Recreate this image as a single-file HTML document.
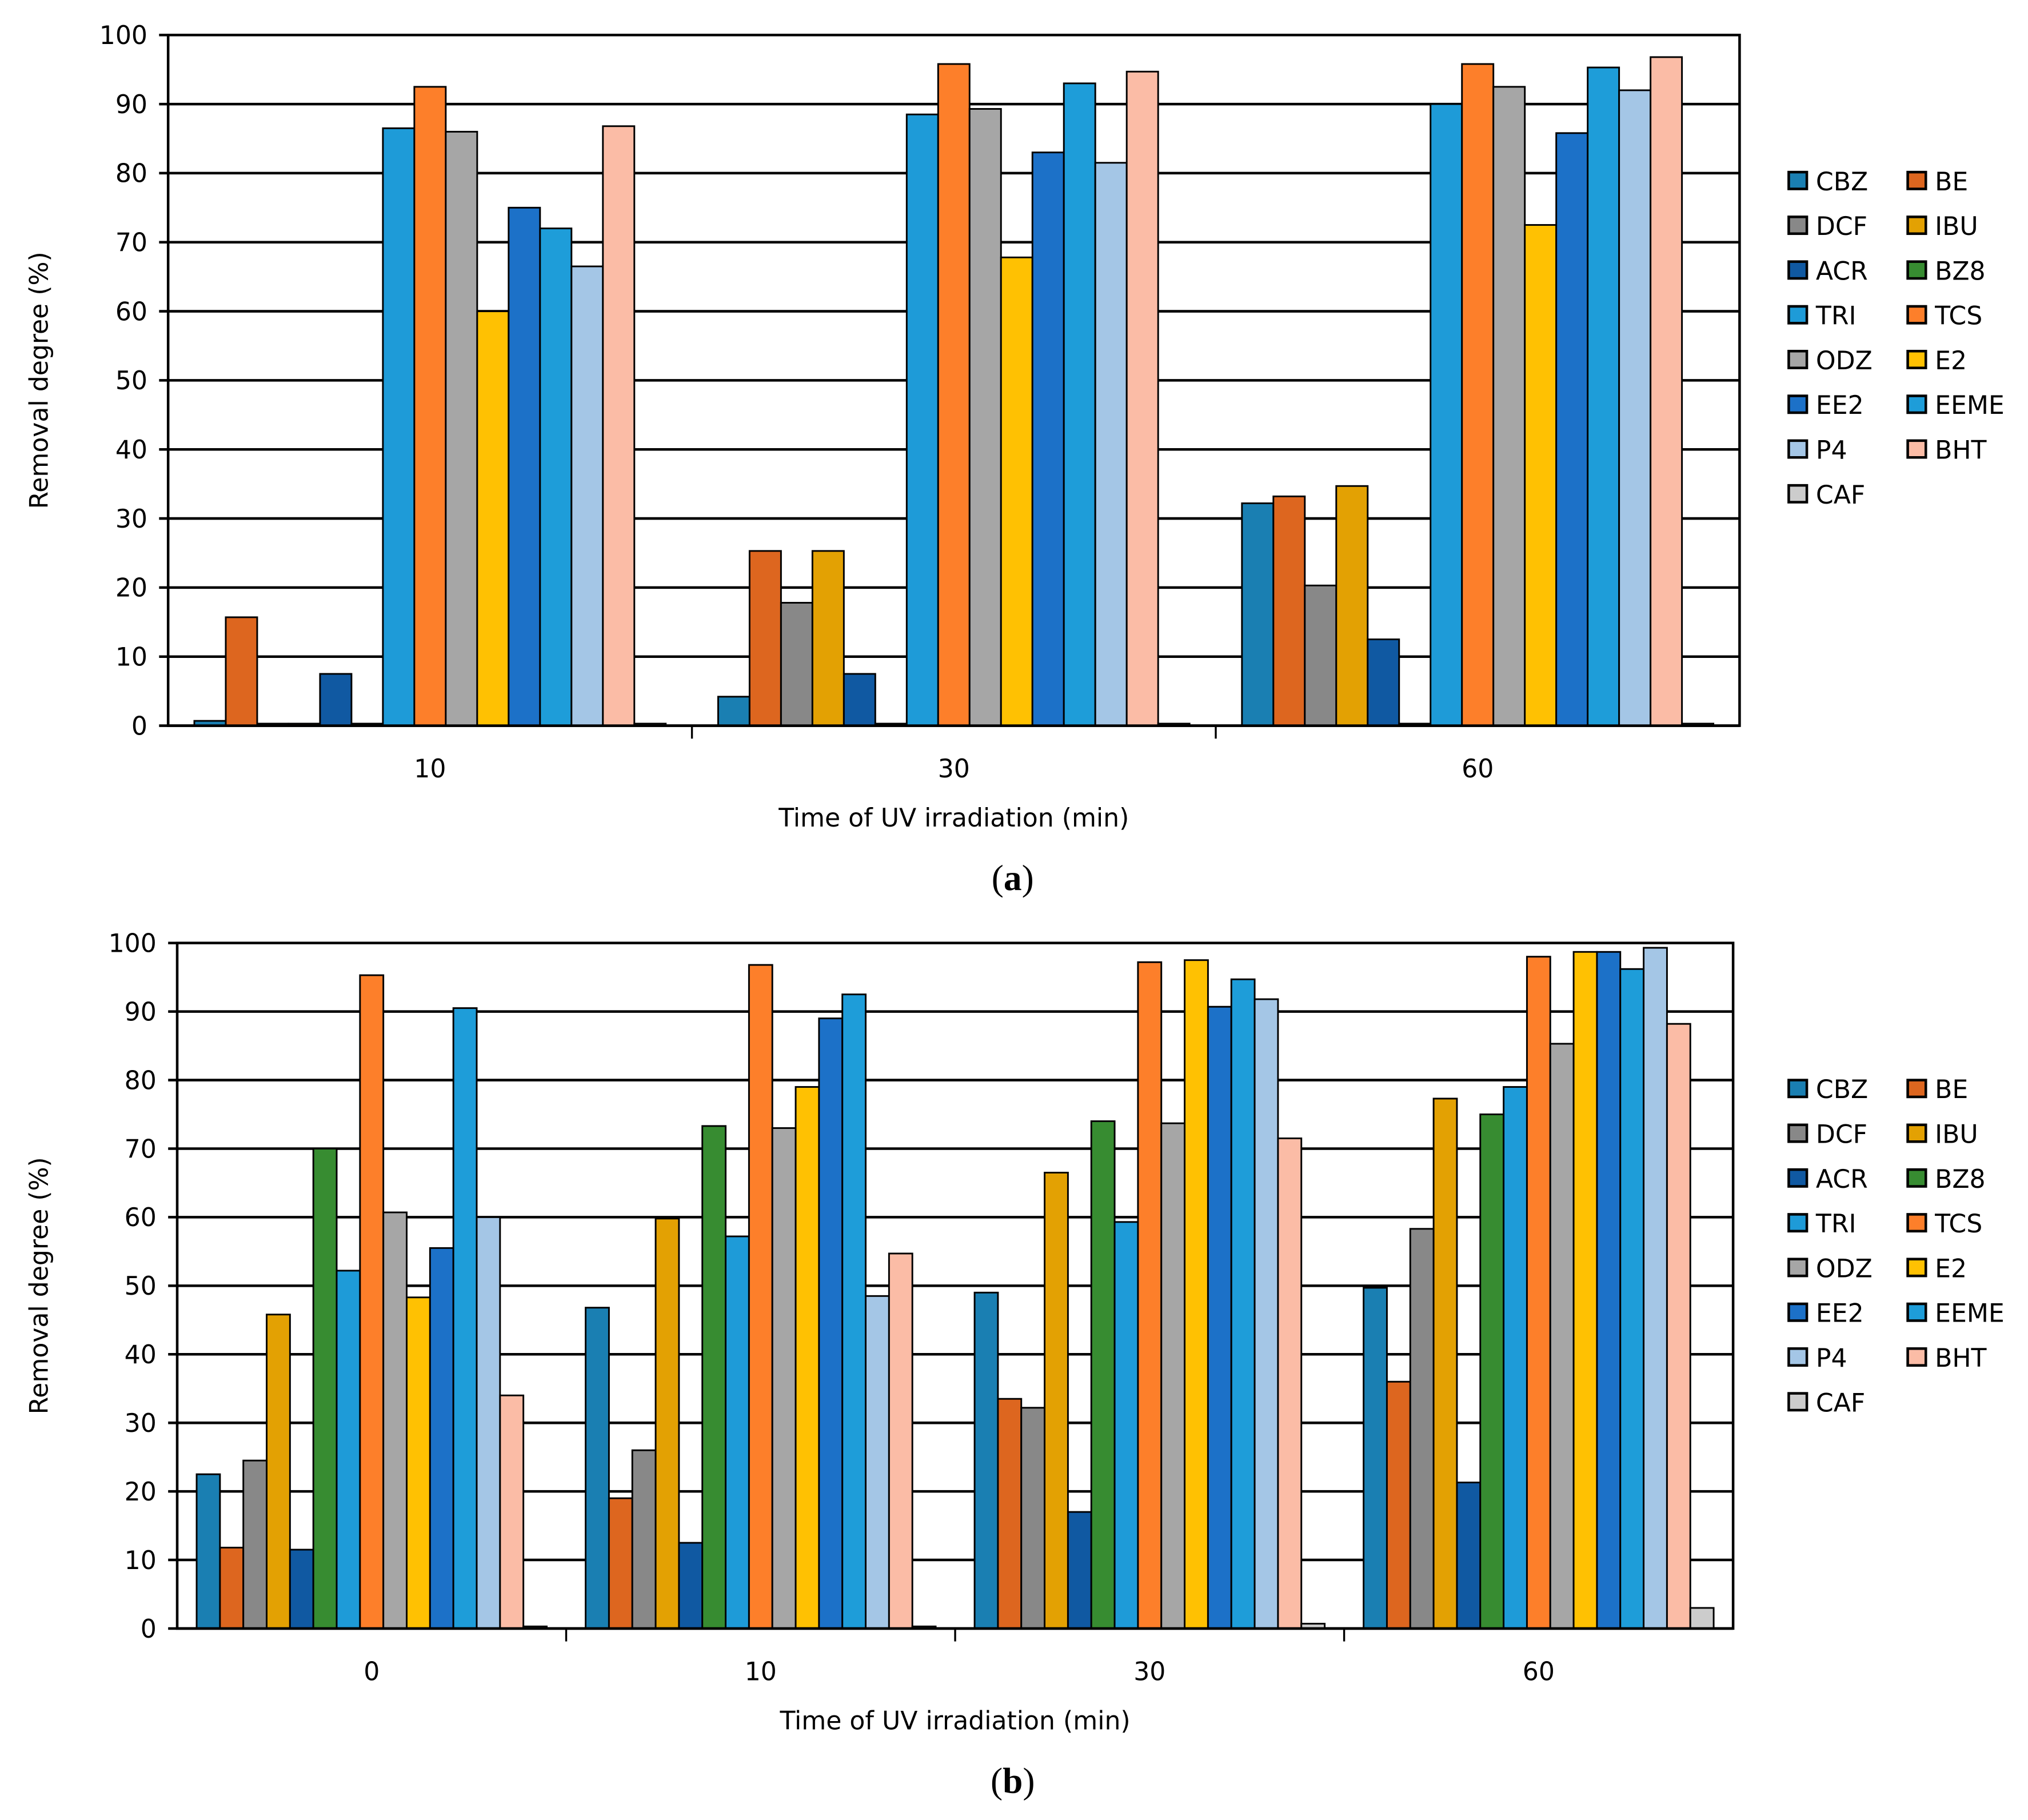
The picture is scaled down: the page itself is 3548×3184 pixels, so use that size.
<!DOCTYPE html>
<html><head><meta charset="utf-8"><style>
html,body{margin:0;padding:0;background:#fff;}
svg{display:block;}
text{font-family:"DejaVu Sans","Liberation Sans",sans-serif;fill:#000;}
</style></head><body>
<svg id="fig" width="3548" height="3184" viewBox="0 0 1568 1407" xmlns="http://www.w3.org/2000/svg"></svg>
<script>
const seriesNames = ["CBZ","BE","DCF","IBU","ACR","BZ8","TRI","TCS","ODZ","E2","EE2","EEME","P4","BHT","CAF"];
const seriesColors = ["#1a7fb2","#dd661f","#888888","#e3a103","#1059a2","#378c31","#1e9bd8","#fd7f2a","#a6a6a6","#ffc102","#1c71c8","#1e9dd9","#a4c6e6","#fbbca6","#cccccc"];
const yTicks = [0,10,20,30,40,50,60,70,80,90,100];
const catsA = ["10","30","60"];
const valsA10 = [0.7,15.7,0.3,0.3,7.5,0.3,86.5,92.5,86,60,75,72,66.5,86.8,0.3];
const valsA30 = [4.2,25.3,17.8,25.3,7.5,0.3,88.5,95.8,89.3,67.8,83,93,81.5,94.7,0.3];
const valsA60 = [32.2,33.2,20.3,34.7,12.5,0.3,90,95.8,92.5,72.5,85.8,95.3,92,96.8,0.3];
const catsB = ["0","10","30","60"];
const valsB0 = [22.5,11.8,24.5,45.8,11.5,70,52.2,95.3,60.7,48.3,55.5,90.5,60,34,0.3];
const valsB10 = [46.8,19,26,59.8,12.5,73.3,57.2,96.8,73,79,89,92.5,48.5,54.7,0.3];
const valsB30 = [49,33.5,32.2,66.5,17,74,59.3,97.2,73.7,97.5,90.7,94.7,91.8,71.5,0.7];
const valsB60 = [49.7,36,58.3,77.3,21.3,75,79,98,85.3,98.7,98.7,96.2,99.3,88.2,3];

const NS="http://www.w3.org/2000/svg";
const svg=document.getElementById('fig');
function el(tag,attrs,parent){const e=document.createElementNS(NS,tag);for(const k in attrs)e.setAttribute(k,attrs[k]);(parent||svg).appendChild(e);return e;}

function chart(id,cats,vals,L,R,T,B,legendY,label,labelY){
  const g=el('g',{});
  
  
  const y=v=>B-(v/100)*(B-T);
  const gw=(R-L)/cats.length;
  const pad=gw*0.05;
  const bw=(gw-2*pad)/seriesNames.length;
  yTicks.forEach(t=>{
    const ln=el('line',{x1:L-7,x2:R,y1:y(t),y2:y(t),stroke:'#000','stroke-width':2},g);
    
    
    const tx=el('text',{x:L-16,y:y(t)+7,'text-anchor':'end','font-size':19.5},g);
    tx.textContent=t;
    
    
  });
  cats.forEach((c,ci)=>{
    vals[ci].forEach((v,si)=>{
      const x=L+ci*gw+pad+si*bw;
      const r=el('rect',{x:x,y:y(v),width:bw,height:B-y(v),fill:seriesColors[si],stroke:'#000','stroke-width':1.3},g);
      
      
    });
    const tl=el('text',{x:L+ci*gw+gw/2,y:B+40,'text-anchor':'middle','font-size':19.5},g);
    tl.textContent=c;
    
    
    if(ci>0){
      const tk=el('line',{x1:L+ci*gw,x2:L+ci*gw,y1:B,y2:B+10,stroke:'#000','stroke-width':1.5},g);
      
      
    }
  });
  const fr=el('rect',{x:L,y:T,width:R-L,height:B-T,fill:'none',stroke:'#000','stroke-width':2},g);
  
  
  const yt=el('text',{x:0,y:0,'text-anchor':'middle','font-size':19.5,transform:`translate(37 ${(T+B)/2}) rotate(-90)`},g);
  yt.textContent='Removal degree (%)';
  
  
  const xt=el('text',{x:(L+R)/2,y:B+78,'text-anchor':'middle','font-size':19.5},g);
  xt.textContent='Time of UV irradiation (min)';
  
  
  const lab=el('text',{x:783,y:labelY,'text-anchor':'middle','font-size':28,style:'font-family:"Liberation Serif",serif'},g);
  lab.innerHTML='(<tspan font-weight="bold">'+label+'</tspan>)';
  
  
  seriesNames.forEach((n,i)=>{
    const col=i%2,row=Math.floor(i/2);
    const lx=col?1475:1383, ly=legendY+row*34.6;
    const lg=el('g',{},g);
    
    
    el('rect',{x:lx,y:ly-7,width:14,height:13,fill:seriesColors[i],stroke:'#000','stroke-width':2},lg);
    const t=el('text',{x:lx+21,y:ly+7,'font-size':19.5},lg);
    t.textContent=n;
  });
}
chart('chart-a',catsA,[valsA10,valsA30,valsA60],130,1345,27,561,140,'a',688);
chart('chart-b',catsB,[valsB0,valsB10,valsB30,valsB60],137,1340,729,1259,842,'b',1386);
</script>
</body></html>
